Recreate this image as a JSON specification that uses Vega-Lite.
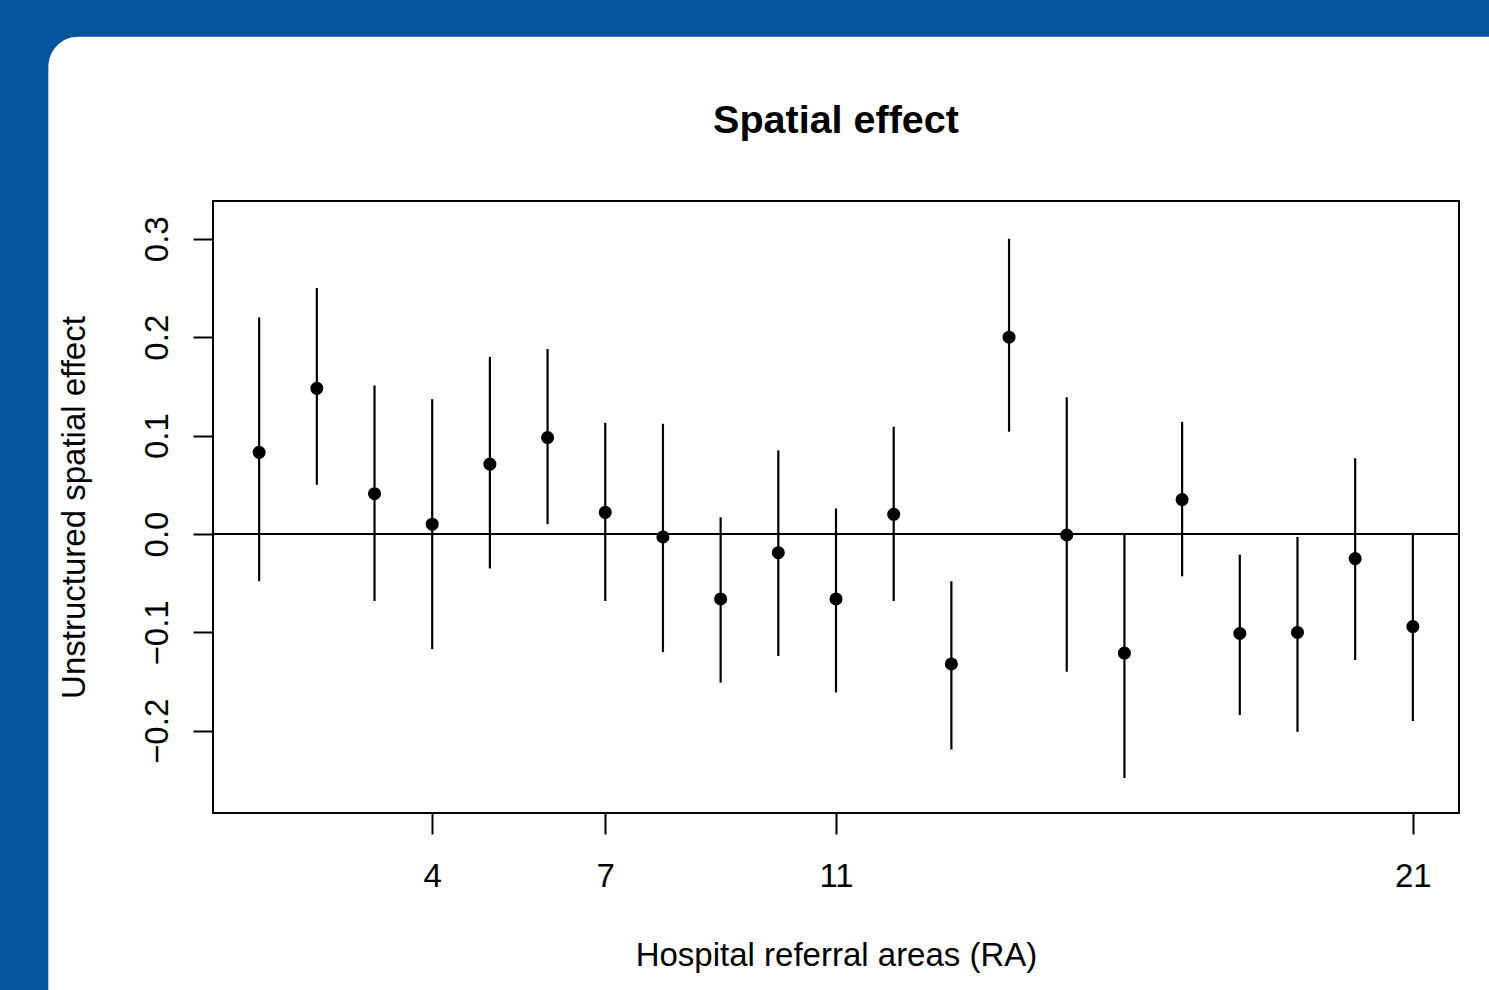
{
  "$schema": "https://vega.github.io/schema/vega-lite/v6.json",
  "autosize": "none",
  "width": 1246,
  "height": 612,
  "padding": {"left": 213, "top": 201, "right": 30, "bottom": 177},
  "background": "#03539d",
  "title": {
    "text": "Spatial effect",
    "font": "Liberation Sans",
    "fontSize": 39.5,
    "fontWeight": "bold",
    "color": "black",
    "anchor": "middle",
    "frame": "group",
    "baseline": "alphabetic",
    "offset": -136
  },
  "config": {
    "view": {"stroke": null},
    "axis": {"grid": false, "domain": false, "zindex": 1}
  },
  "datasets": {
    "effects": [
      {"ra": 1, "est": 0.083, "lower": -0.048, "upper": 0.220},
      {"ra": 2, "est": 0.148, "lower": 0.050, "upper": 0.250},
      {"ra": 3, "est": 0.041, "lower": -0.068, "upper": 0.151},
      {"ra": 4, "est": 0.010, "lower": -0.117, "upper": 0.137},
      {"ra": 5, "est": 0.071, "lower": -0.035, "upper": 0.180},
      {"ra": 6, "est": 0.098, "lower": 0.010, "upper": 0.188},
      {"ra": 7, "est": 0.022, "lower": -0.068, "upper": 0.113},
      {"ra": 8, "est": -0.003, "lower": -0.120, "upper": 0.112},
      {"ra": 9, "est": -0.066, "lower": -0.151, "upper": 0.017},
      {"ra": 10, "est": -0.019, "lower": -0.124, "upper": 0.085},
      {"ra": 11, "est": -0.066, "lower": -0.161, "upper": 0.026},
      {"ra": 12, "est": 0.020, "lower": -0.068, "upper": 0.109},
      {"ra": 13, "est": -0.132, "lower": -0.219, "upper": -0.048},
      {"ra": 14, "est": 0.200, "lower": 0.104, "upper": 0.300},
      {"ra": 15, "est": -0.001, "lower": -0.140, "upper": 0.139},
      {"ra": 16, "est": -0.121, "lower": -0.248, "upper": 0.000},
      {"ra": 17, "est": 0.035, "lower": -0.043, "upper": 0.114},
      {"ra": 18, "est": -0.101, "lower": -0.184, "upper": -0.021},
      {"ra": 19, "est": -0.100, "lower": -0.201, "upper": -0.003},
      {"ra": 20, "est": -0.025, "lower": -0.128, "upper": 0.077},
      {"ra": 21, "est": -0.094, "lower": -0.190, "upper": 0.000}
    ]
  },
  "layer": [
    {
      "data": {"values": [{}]},
      "mark": {"type": "rect", "fill": "white", "cornerRadius": 30, "clip": false},
      "encoding": {
        "x": {
          "datum": -2.655,
          "type": "quantitative",
          "scale": {"domain": [0.2, 21.8], "nice": false, "zero": false},
          "axis": {
            "title": "Hospital referral areas (RA)",
            "values": [4, 7, 11, 21],
            "format": "d",
            "zindex": 1,
            "tickSize": 21,
            "tickWidth": 2,
            "tickColor": "black",
            "labelFont": "Liberation Sans",
            "labelFontSize": 33,
            "labelColor": "black",
            "labelPadding": 26,
            "labelFlush": false,
            "labelOverlap": false,
            "titleFont": "Liberation Sans",
            "titleFontSize": 33,
            "titleFontWeight": "normal",
            "titleColor": "black",
            "titleBaseline": "alphabetic",
            "titleAlign": "center",
            "titleX": 623,
            "titleY": 152
          }
        },
        "x2": {"datum": 24},
        "y": {
          "datum": 0.5054,
          "type": "quantitative",
          "scale": {"domain": [-0.2835, 0.3384], "nice": false, "zero": false},
          "axis": {
            "title": "Unstructured spatial effect",
            "values": [-0.2, -0.1, 0, 0.1, 0.2, 0.3],
            "format": ".1f",
            "zindex": 1,
            "tickSize": 20,
            "tickWidth": 2,
            "tickColor": "black",
            "labelAngle": 270,
            "labelAlign": "center",
            "labelBaseline": "alphabetic",
            "labelPadding": 26,
            "labelFont": "Liberation Sans",
            "labelFontSize": 33,
            "labelColor": "black",
            "labelFlush": false,
            "labelOverlap": false,
            "titleFont": "Liberation Sans",
            "titleFontSize": 33,
            "titleFontWeight": "normal",
            "titleColor": "black",
            "titleAngle": 270,
            "titleAlign": "center",
            "titleBaseline": "alphabetic",
            "titleX": -129,
            "titleY": 306
          }
        },
        "y2": {"datum": -0.8}
      }
    },
    {
      "data": {"values": [{}]},
      "mark": {"type": "rect", "fill": null, "fillOpacity": 0, "stroke": "black", "strokeWidth": 2, "clip": false},
      "encoding": {
        "x": {"datum": 0.2, "type": "quantitative", "scale": {"domain": [0.2, 21.8], "nice": false, "zero": false}},
        "x2": {"datum": 21.8},
        "y": {"datum": -0.2835, "type": "quantitative", "scale": {"domain": [-0.2835, 0.3384], "nice": false, "zero": false}},
        "y2": {"datum": 0.3384}
      }
    },
    {
      "data": {"values": [{}]},
      "mark": {"type": "rule", "color": "black", "strokeWidth": 2},
      "encoding": {
        "y": {"datum": 0, "type": "quantitative", "scale": {"domain": [-0.2835, 0.3384], "nice": false, "zero": false}}
      }
    },
    {
      "data": {"name": "effects"},
      "mark": {"type": "rule", "color": "black", "strokeWidth": 2.2},
      "encoding": {
        "x": {"field": "ra", "type": "quantitative", "scale": {"domain": [0.2, 21.8], "nice": false, "zero": false}},
        "y": {"field": "lower", "type": "quantitative", "scale": {"domain": [-0.2835, 0.3384], "nice": false, "zero": false}},
        "y2": {"field": "upper"}
      }
    },
    {
      "data": {"name": "effects"},
      "mark": {"type": "circle", "color": "black", "opacity": 1, "size": 170},
      "encoding": {
        "x": {"field": "ra", "type": "quantitative", "scale": {"domain": [0.2, 21.8], "nice": false, "zero": false}},
        "y": {"field": "est", "type": "quantitative", "scale": {"domain": [-0.2835, 0.3384], "nice": false, "zero": false}}
      }
    }
  ]
}
